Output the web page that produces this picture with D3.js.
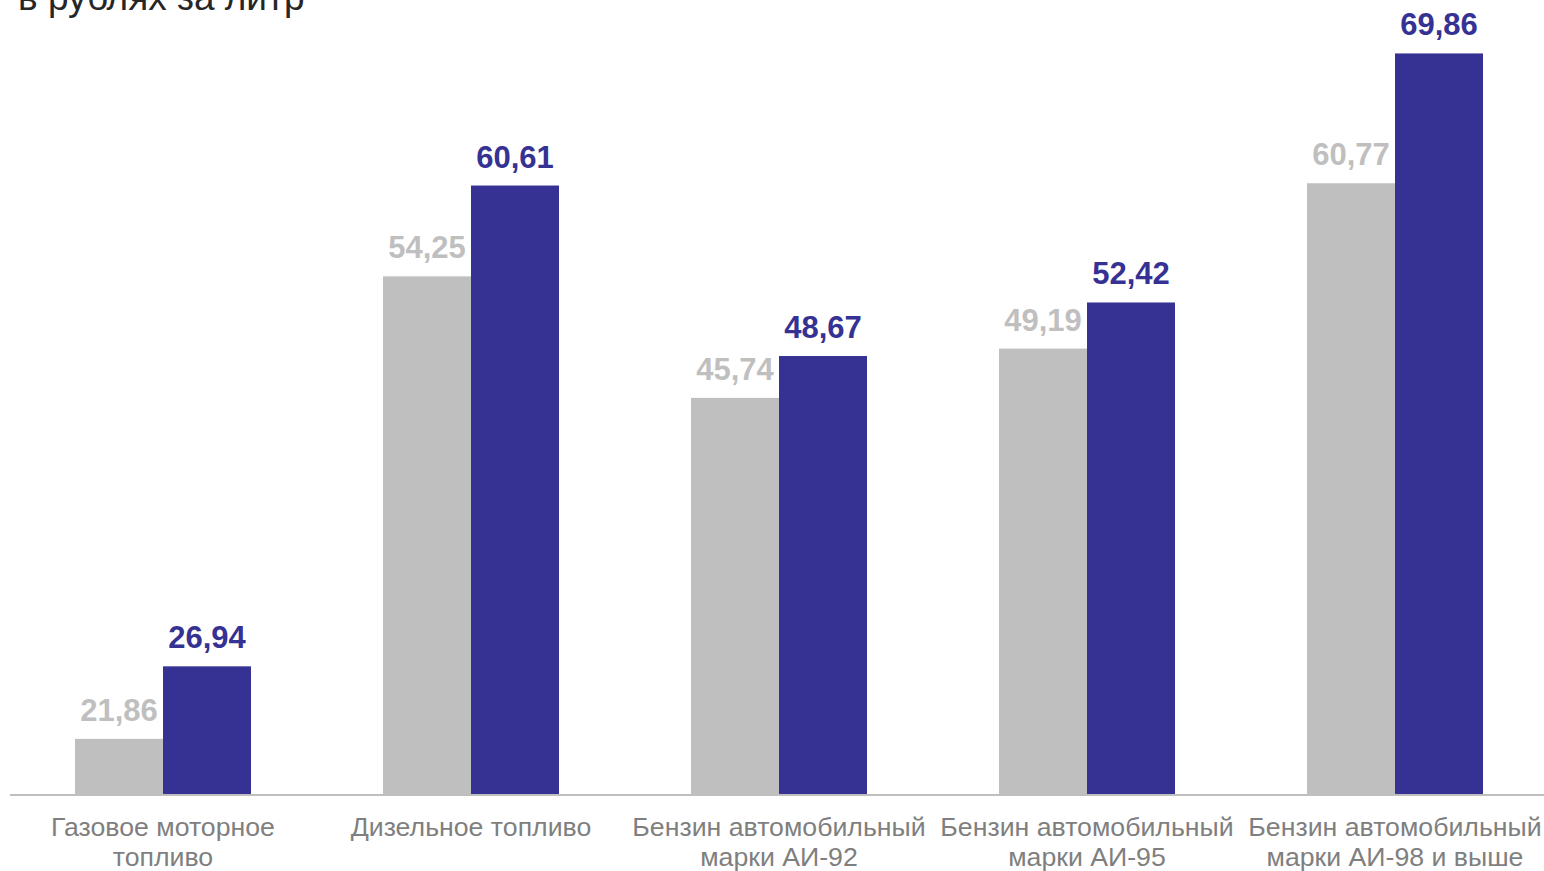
<!DOCTYPE html>
<html><head><meta charset="utf-8">
<script src="https://cdn.jsdelivr.net/npm/d3@7"></script>
<style>html,body{margin:0;padding:0;background:#fff;overflow:hidden}</style>
</head><body>
<svg id="c" width="1544" height="871"></svg>
<script>
const categories = [
  ["Газовое моторное", "топливо"],
  ["Дизельное топливо"],
  ["Бензин автомобильный", "марки АИ-92"],
  ["Бензин автомобильный", "марки АИ-95"],
  ["Бензин автомобильный", "марки АИ-98 и выше"]
];
const seriesPrev = [21.86, 54.25, 45.74, 49.19, 60.77];
const seriesCurr = [26.94, 60.61, 48.67, 52.42, 69.86];
const seriesNames = ["prev", "curr"];
const colors = {prev: "#bfbfbf", curr: "#353293"};
const titleText = "в рублях за литр";

const svg = d3.select("#c");
const font = "'Liberation Sans', Arial, sans-serif";
const baseline = 794;

const x0 = d3.scaleBand().domain(d3.range(categories.length)).range([9, 1549]).paddingInner(132/308).paddingOuter(66/308);
const x1 = d3.scaleBand().domain(seriesNames).range([0, x0.bandwidth()]);
const y = d3.scaleLinear().domain([18, 70]).range([baseline, baseline - 52 * 14.28]);

const data = categories.map((c, i) => ({i, vals: [{k: "prev", v: seriesPrev[i]}, {k: "curr", v: seriesCurr[i]}]}));

svg.append("text").attr("x", 18).attr("y", 10).attr("font-family", font).attr("font-size", 37)
  .attr("fill", "#262626").text(titleText);

const g = svg.selectAll("g.grp").data(data).join("g").attr("class", "grp")
  .attr("transform", d => `translate(${x0(d.i)},0)`);

g.selectAll("rect").data(d => d.vals).join("rect")
  .attr("x", d => x1(d.k)).attr("width", x1.bandwidth())
  .attr("y", d => y(d.v)).attr("height", d => baseline - y(d.v))
  .attr("fill", d => colors[d.k]);

g.selectAll("text.val").data(d => d.vals).join("text").attr("class", "val")
  .attr("x", d => x1(d.k) + x1.bandwidth() / 2).attr("y", d => y(d.v) - 18)
  .attr("text-anchor", "middle").attr("font-family", font).attr("font-weight", "bold")
  .attr("font-size", 31).attr("fill", d => colors[d.k])
  .text(d => d.v.toFixed(2).replace(".", ","));

svg.append("line").attr("x1", 10).attr("x2", 1544).attr("y1", baseline + 1).attr("y2", baseline + 1)
  .attr("stroke", "#bfbfbf").attr("stroke-width", 2);

const labels = svg.selectAll("text.cat").data(categories).join("text").attr("class", "cat")
  .attr("text-anchor", "middle").attr("font-family", font).attr("font-size", 26.7).attr("fill", "#7f7f7f");
labels.selectAll("tspan").data((d, i) => d.map(t => ({t, i}))).join("tspan")
  .attr("x", d => x0(d.i) + x0.bandwidth() / 2)
  .attr("y", (d, j) => 836 + j * 30)
  .text(d => d.t);
</script>
</body></html>
